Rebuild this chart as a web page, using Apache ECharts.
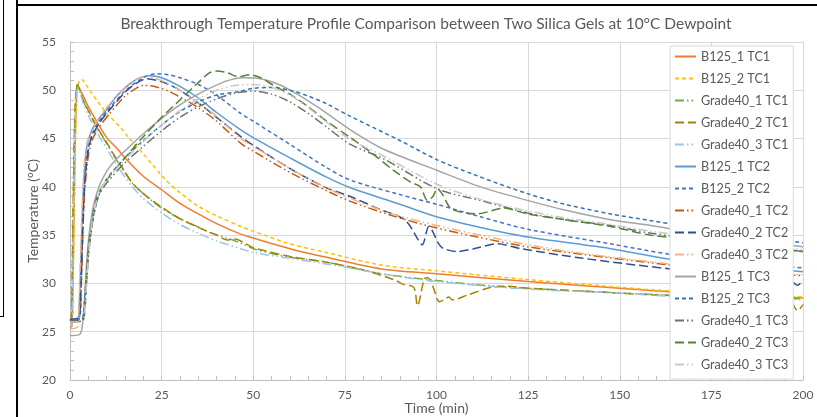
<!DOCTYPE html>
<html>
<head>
<meta charset="utf-8">
<title>Breakthrough Temperature Profile</title>
<script src="https://cdn.jsdelivr.net/npm/echarts@6/dist/echarts.min.js"></script>
<style>
  html, body { margin: 0; padding: 0; background: #fff; }
  #wrap { position: relative; width: 817px; height: 417px; overflow: hidden; }
  #myChart { position: absolute; left: 0; top: 0; width: 817px; height: 417px; }
  .frame { position: absolute; background: #000; }
</style>
</head>
<body>
<div id="wrap">
  <div id="myChart"></div>
  <!-- bits of the page around the chart -->
  <div class="frame" style="left:16px;top:0;width:2px;height:417px"></div>
  <div class="frame" style="left:16px;top:4px;width:801px;height:2px"></div>
  <div style="position:absolute;left:-3px;top:-2px;width:6px;height:318px;border-right:1.5px solid #000;border-bottom:1.5px solid #000"></div>
</div>
<script>
// [time (min), temperature (°C)]
const b125_1_tc1 = [[0,25.4],[0.5,25.6],[0.9,32],[1.3,42],[1.7,48.5],[2.1,50.4],[2.6,50.2],[3.5,49.5],[5,48.3],[8,46.3],[10,45.1],[12.8,44.0],[15,43.0],[20,41.1],[25,39.7],[30,38.3],[35,37.2],[40,36.2],[46.6,35.1],[50,34.7],[60,33.6],[70,32.7],[85,31.5],[100,31.0],[125,30.2],[150,29.5],[165,29.1],[185,28.8],[200,28.5]]
const b125_2_tc1 = [[0,26.0],[0.6,26.3],[1.0,33],[1.4,43],[1.9,49.5],[2.5,51.0],[3.2,51.1],[5,50.2],[8,48.6],[10,47.6],[13.7,46.2],[16,45.1],[20,43.4],[26.4,40.6],[30,39.4],[35,38.0],[40,37.0],[46.6,35.9],[50,35.4],[60,34.1],[70,33.2],[85,31.9],[100,31.3],[125,30.4],[150,29.6],[165,29.2],[185,28.9],[200,28.6]]
const grade40_1_tc1 = [[0,26.1],[0.4,26.4],[0.8,36],[1.2,45],[1.6,49.5],[2.0,50.5],[2.6,50.0],[3.5,49.0],[5,47.8],[8,45.7],[10,44.5],[12,43.2],[14.6,41.7],[17,40.4],[20,39.3],[24.6,37.9],[30,36.7],[34.7,35.9],[38,35.3],[42.9,34.7],[47,34.1],[50,33.6],[55,33.1],[60,32.7],[70,32.2],[85,31.0],[100,30.3],[110,29.9],[124.6,29.5],[140,29.2],[162.8,28.8],[180,28.6],[200,28.4]]
const grade40_2_tc1 = [[0,26.2],[0.4,26.5],[0.8,36.5],[1.2,45.5],[1.6,49.7],[2.0,50.6],[2.6,50.1],[3.5,49.1],[5,47.9],[8,45.8],[10,44.6],[12,43.3],[14.6,41.8],[17,40.4],[20,39.3],[24.6,38.0],[30,36.7],[35,35.8],[40,35.0],[43,34.5],[45,34.6],[48,34.1],[50,33.7],[60,32.8],[70,32.2],[80,31.4],[88.3,30.4],[91,29.9],[93.8,29.6],[94.8,27.7],[96.7,30.5],[97.6,30.6],[99,29.7],[100.8,28.1],[102,28.3],[103.4,28.6],[104.3,28.3],[108.5,28.8],[114.9,29.6],[119.5,29.7],[125,29.5],[140,29.2],[160,28.8],[180,28.6],[196,28.4],[198.5,27.2],[200,27.8]]
const grade40_3_tc1 = [[0,25.2],[0.5,25.5],[0.9,35],[1.3,44.5],[1.7,49.3],[2.1,50.3],[2.7,49.8],[3.5,48.8],[5,47.4],[8,45.2],[10,44.0],[12,42.7],[15,41.0],[17,40.0],[20,38.8],[25,37.3],[30,36.1],[35,35.2],[40,34.4],[46.6,33.6],[50,33.2],[60,32.6],[75,31.7],[85,31.0],[100,30.2],[125,29.4],[150,29.0],[163,28.7],[180,28.5],[200,28.3]]

const b125_1_tc2 = [[0,26.0],[2,26.1],[2.5,27.5],[3,33],[3.5,38.5],[4,42],[4.6,44.2],[6,45.9],[8,47.1],[10,48.0],[12.5,49.3],[15.5,50.4],[18,51.1],[20,51.4],[22,51.5],[25,51.3],[30,50.4],[35,49.2],[40,47.7],[46.6,45.9],[50,45.1],[60,43.0],[70,41.0],[76.5,39.9],[90,38.2],[100,36.9],[112,35.8],[125,34.8],[147.5,33.6],[164,32.5],[180,31.9],[200,31.2]]
const b125_2_tc2 = [[0,26.2],[2.5,26.3],[3,29.5],[3.5,35.5],[4,40],[4.8,43.6],[6,45.4],[8,46.8],[10,47.8],[15,49.9],[20,51.3],[23.7,51.7],[27,51.6],[30,51.3],[35,50.6],[40,49.5],[46.6,47.6],[50,46.8],[60,44.4],[70,42.0],[76.5,40.7],[90,39.2],[100,38.2],[112,36.9],[125,35.6],[147.5,34.1],[164,33.0],[180,32.3],[200,31.6]]
const grade40_1_tc2 = [[0,26.1],[2.5,26.3],[3,29],[3.5,35],[4,39.5],[5,43.2],[6,44.8],[8,46.2],[10,47.2],[15,49.4],[18,50.2],[20,50.5],[23,50.4],[27,49.9],[30,49.3],[35,48.2],[40,46.8],[46.6,44.5],[50,43.7],[60,41.5],[70,39.6],[76.5,38.5],[88,37.0],[98.4,35.9],[110,34.9],[124.8,33.8],[140,33.0],[164,31.9],[180,31.3],[200,30.8]]
const grade40_2_tc2 = [[0,26.3],[2.5,26.5],[3,30],[3.5,36],[4,40.3],[5,43.8],[6,45.2],[8,46.6],[10,47.6],[15,49.8],[18,50.7],[21,51.2],[24,51.0],[27,50.6],[30,50.0],[35,48.7],[40,47.2],[46.6,45.2],[50,44.3],[60,41.9],[70,39.9],[76.5,39.0],[85,37.6],[90,36.9],[92.5,36.1],[94.7,34.7],[96.1,34.0],[97.9,35.9],[98.8,35.5],[100.6,34.1],[102,33.6],[105.7,33.3],[110.2,33.6],[116.6,34.1],[123,33.6],[140,32.6],[164,31.5],[180,31.0],[196,30.5],[198.5,29.8],[200,30.4]]
const grade40_3_tc2 = [[0,25.3],[2,25.5],[2.5,28.5],[3,34.5],[3.5,39.5],[4,42.8],[5,45.0],[8,47.2],[10,48.2],[15,50.3],[18,51.1],[21,51.4],[25,51.0],[30,50.0],[35,48.7],[40,47.3],[46.6,45.0],[50,44.2],[60,41.9],[70,39.9],[76.5,38.8],[88,37.2],[100,36.0],[112,35.0],[125,34.0],[140,33.1],[164,32.0],[180,31.4],[200,30.9]]

const b125_1_tc3 = [[0,24.6],[2.5,24.7],[3.2,25.2],[3.7,27],[4.2,30],[4.8,33.5],[5.5,36],[6.5,38.2],[8,40.1],[10,41.6],[12,42.6],[15.5,43.9],[20,45.5],[25,47.1],[30,48.5],[35,49.6],[39.2,50.4],[43,51.0],[47,51.3],[52,51.2],[57,50.6],[62,49.6],[67,48.4],[72,47.1],[76.5,45.9],[85,44.0],[100.2,41.7],[112,40.0],[124.8,38.6],[135,37.6],[147.5,36.6],[158.5,36.0],[175,35.0],[200,33.8]]
const b125_2_tc3 = [[0,26.0],[3,26.1],[3.7,27],[4.3,30],[5,33],[6,36],[7,38],[8,39.3],[10,40.8],[15,43.0],[20,44.8],[25,46.4],[30,47.8],[35,48.8],[40,49.5],[46.6,49.9],[50,50.2],[55,50.3],[60,50.0],[65,49.4],[70,48.6],[76.5,47.3],[90,44.8],[100.2,42.8],[110,41.3],[124.8,39.3],[135,38.2],[147.5,37.2],[158.5,36.5],[175,35.5],[200,34.2]]
const grade40_1_tc3 = [[0,26.2],[3.5,26.3],[4,27.5],[4.6,30.5],[5.2,33.5],[6,36],[7,38],[8,39.2],[10,40.4],[15,42.5],[20,44.2],[25,45.8],[30,47.2],[35,48.3],[40,49.1],[45,49.7],[50,49.9],[55,49.6],[60,48.8],[65,47.6],[70,46.2],[76.5,44.4],[85.6,42.9],[100.2,39.8],[112.9,38.5],[124.8,37.3],[135,36.6],[147.5,36.0],[158.5,35.2],[180,34.2],[200,33.3]]
const grade40_2_tc3 = [[0,26.0],[3.5,26.2],[4,27],[4.5,30],[5,33.5],[6,36.5],[7,38.5],[8,39.5],[10,40.7],[15,43.0],[20,45.2],[25,47.2],[30,49.0],[35,50.8],[38,51.8],[40,52.0],[43,51.8],[46,51.4],[49,51.6],[52,51.3],[56,50.4],[60,49.6],[65,48.3],[70,46.8],[76.5,45.1],[82,43.6],[88.3,41.7],[92.9,40.5],[95.6,40.0],[97.5,38.6],[99,39.0],[100.2,39.8],[101.5,39.3],[103.8,37.8],[106.6,37.4],[111.1,37.2],[118.4,37.8],[124.8,37.2],[135,36.6],[147.5,35.9],[158.5,35.0],[180,34.2],[200,33.3]]
const grade40_3_tc3 = [[0,26.0],[3.5,26.1],[4,27.2],[4.6,30.5],[5.2,33.5],[6,36.3],[7,38.2],[8,39.4],[10,40.7],[15,42.8],[20,44.7],[25,46.4],[30,47.9],[35,49.1],[40,50.0],[45,50.5],[50,50.6],[55,50.3],[60,49.5],[65,48.2],[70,46.7],[76.5,44.9],[85,43.3],[100,40.3],[112,38.7],[125,37.5],[135,36.8],[147.5,36.1],[158.5,35.4],[180,34.4],[200,33.5]]

const seriesNames = ['B125_1 TC1', 'B125_2 TC1', 'Grade40_1 TC1', 'Grade40_2 TC1', 'Grade40_3 TC1',
  'B125_1 TC2', 'B125_2 TC2', 'Grade40_1 TC2', 'Grade40_2 TC2', 'Grade40_3 TC2',
  'B125_1 TC3', 'B125_2 TC3', 'Grade40_1 TC3', 'Grade40_2 TC3', 'Grade40_3 TC3']
const seriesData = [b125_1_tc1, b125_2_tc1, grade40_1_tc1, grade40_2_tc1, grade40_3_tc1,
  b125_1_tc2, b125_2_tc2, grade40_1_tc2, grade40_2_tc2, grade40_3_tc2,
  b125_1_tc3, b125_2_tc3, grade40_1_tc3, grade40_2_tc3, grade40_3_tc3]

// line look, same order as the names
const colors = ['#ED7D31', '#FFC000', '#70AD47', '#A38300', '#9DC3E6',
  '#5B9BD5', '#4472C4', '#C55A11', '#2F4F8F', '#F4B183',
  '#A5A5A5', '#2E75B6', '#6F6F6F', '#548235', '#C9C9C9']
const SOLID = 'solid'
const SHORT = [4, 3]
const DASHDOT = [9, 3, 1.5, 3, 1.5, 3]
const LONG = [9, 4]
const dashes = [SOLID, SHORT, DASHDOT, LONG, DASHDOT,
  SOLID, SHORT, DASHDOT, LONG, DASHDOT,
  SOLID, SHORT, DASHDOT, LONG, DASHDOT]

const FONT = 'Lato, "Open Sans", sans-serif'
const TEXT = '#595959'

let myChart = echarts.init(document.getElementById('myChart'), null, { renderer: 'canvas' })
let option = {
  backgroundColor: '#fff',
  animation: false,
  title: {
    text: 'Breakthrough Temperature Profile Comparison between Two Silica Gels at 10°C Dewpoint',
    left: 421,
    textAlign: 'center',
    top: 11,
    textStyle: { fontFamily: FONT, fontSize: 15.5, fontWeight: 'normal', color: TEXT }
  },
  // fixed plot box, don't let labels shrink it
  grid: { left: 70, right: 14, top: 42, bottom: 37, containLabel: false, outerBoundsMode: 'none' },
  legend: {
    orient: 'vertical',
    left: 670,
    top: 46,
    padding: [4, 5, 8, 4],
    itemWidth: 21,
    itemHeight: 14,
    itemGap: 9,
    backgroundColor: '#fff',
    borderColor: '#D9D9D9',
    borderWidth: 1,
    // hide the marker dot, keep the dashed line
    itemStyle: { opacity: 0 },
    textStyle: { fontFamily: FONT, fontSize: 12.6, color: TEXT },
    data: seriesNames
  },
  xAxis: {
    type: 'value',
    min: 0,
    max: 200,
    interval: 25,
    name: 'Time (min)',
    nameLocation: 'middle',
    nameGap: 21,
    nameMoveOverlap: false,
    nameTextStyle: { fontFamily: FONT, fontSize: 14, color: TEXT },
    axisLine: { lineStyle: { color: '#BFBFBF' } },
    axisTick: { show: true, inside: true, length: 4, lineStyle: { color: '#BFBFBF' } },
    minorTick: { show: true, splitNumber: 5, length: 4, lineStyle: { color: '#BFBFBF' } },
    axisLabel: { fontFamily: FONT, fontSize: 12, color: TEXT, margin: 9 },
    splitLine: { show: true, lineStyle: { color: '#D9D9D9' } }
  },
  yAxis: {
    type: 'value',
    min: 20,
    max: 55,
    interval: 5,
    name: 'Temperature (°C)',
    nameLocation: 'middle',
    nameGap: 30,
    nameMoveOverlap: false,
    nameTextStyle: { fontFamily: FONT, fontSize: 14, color: TEXT },
    axisLine: { show: true, lineStyle: { color: '#BFBFBF' } },
    axisTick: { show: true, inside: true, length: 4, lineStyle: { color: '#BFBFBF' } },
    minorTick: { show: true, splitNumber: 5, length: 4, lineStyle: { color: '#BFBFBF' } },
    axisLabel: { fontFamily: FONT, fontSize: 12, color: TEXT, margin: 14 },
    splitLine: { show: true, lineStyle: { color: '#D9D9D9' } }
  },
  series: seriesNames.map((name, i) => ({
    name: name,
    type: 'line',
    data: seriesData[i],
    symbol: 'none',
    smooth: 0.3,
    color: colors[i],
    lineStyle: { width: 1.5, color: colors[i], type: dashes[i] }
  }))
}
myChart.setOption(option)
</script>
</body>
</html>
